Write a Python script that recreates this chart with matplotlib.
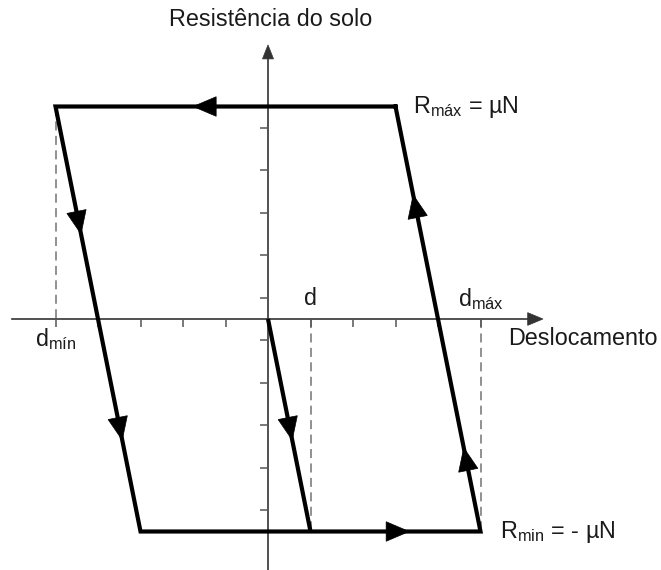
import numpy as np
import matplotlib.pyplot as plt
from matplotlib.patches import Polygon

plt.rcParams['font.family'] = ['Liberation Sans', 'DejaVu Sans']
plt.rcParams['mathtext.fontset'] = 'custom'
plt.rcParams['mathtext.rm'] = 'Liberation Sans'
plt.rcParams['mathtext.it'] = 'Liberation Sans'

# Hysteresis loop of soil resistance vs displacement (normalised units)
r_max = 5.0
r_min = -5.0
d_min = -5.0
d_max = 5.0
d_val = 1.0
loop_x = [3.0, -5.0, -3.0, 5.0, 3.0]
loop_y = [5.0, 5.0, -5.0, -5.0, 5.0]
inner_x = [0.0, 1.0]
inner_y = [0.0, -5.0]

# arrow heads: (start point, end point, fraction along the segment for the tip)
arrows = [
    ((3, 5), (-5, 5), 0.595),
    ((-5, 5), (-3, -5), 0.30),
    ((-5, 5), (-3, -5), 0.785),
    ((-3, -5), (5, -5), 0.79),
    ((5, -5), (3, 5), 0.197),
    ((5, -5), (3, 5), 0.792),
    ((0, 0), (1, -5), 0.57),
]

x_ticks = [-5, -4, -3, -2, -1, 1, 2, 3, 4, 5]
y_ticks = [-4.5, -3.5, -2.5, -1.5, -0.5, 0.5, 1.5, 2.5, 3.5, 4.5]

fig = plt.figure(figsize=(6.61, 5.70), dpi=100)
ax = fig.add_axes([0, 0, 1, 1])
ax.set_xlim(-6.306, 9.247)
ax.set_ylim(-5.906, 7.506)
ax.set_aspect('equal')
ax.axis('off')

axis_col = '#333333'
tick_len = 0.19


def head(tip, direction, length, width, color):
    d = np.asarray(direction, float)
    d /= np.hypot(*d)
    n = np.array([-d[1], d[0]])
    tip = np.asarray(tip, float)
    base = tip - d * length
    pts = [tip, base + n * width / 2, base - n * width / 2]
    ax.add_patch(Polygon(pts, closed=True, fc=color, ec=color, lw=0.5, zorder=5))


# axes with arrow tips
ax.plot([-6.02, 6.2], [0, 0], color=axis_col, lw=1.2, zorder=2)
head((6.47, 0), (1, 0), 0.36, 0.30, axis_col)
ax.plot([0, 0], [-5.9, 6.2], color=axis_col, lw=1.2, zorder=2)
head((0, 6.45), (0, 1), 0.33, 0.26, axis_col)

# ticks
ax.vlines(x_ticks, -tick_len, 0, color='#555555', lw=1.1, zorder=2)
ax.hlines(y_ticks, -tick_len, 0, color='#555555', lw=1.1, zorder=2)

# dashed guides
ax.plot([d_min, d_min], [r_max, 0], color='#888888', lw=1.3, ls=(0, (5, 3)), zorder=1)
ax.plot([d_max, d_max], [0, r_min], color='#888888', lw=1.3, ls=(0, (5, 3)), zorder=1)
ax.plot([d_val, d_val], [0, r_min], color='#888888', lw=1.3, ls=(0, (5, 3)), zorder=1)

# loop
ax.plot(loop_x, loop_y, color='black', lw=3.0, solid_joinstyle='miter', zorder=3)
ax.plot(inner_x, inner_y, color='black', lw=3.0, solid_capstyle='butt', zorder=3)

for p0, p1, f in arrows:
    p0 = np.array(p0, float)
    p1 = np.array(p1, float)
    tip = p0 + f * (p1 - p0)
    head(tip, p1 - p0, 0.54, 0.46, 'black')

txt = '#1a1a1a'
fs = 16.8
ax.text(0.07, 7.04, 'Resistência do solo', ha='center', va='center', fontsize=fs, color=txt)
ax.text(5.65, -0.45, 'Deslocamento', ha='left', va='center', fontsize=fs, color=txt)
ax.text(d_val, 0.33, 'd', ha='center', va='baseline', fontsize=fs, color=txt)
ax.text(d_max, 0.3, r'd$_{\mathrm{máx}}$', ha='center', va='baseline', fontsize=fs, color=txt)
ax.text(d_min, -0.64, r'd$_{\mathrm{mín}}$', ha='center', va='baseline', fontsize=fs, color=txt)
ax.text(3.41, 4.84, r'R$_{\mathrm{máx}}$ = µN', ha='left', va='baseline', fontsize=fs, color=txt)
ax.text(5.46, -5.15, r'R$_{\mathrm{min}}$ = - µN', ha='left', va='baseline', fontsize=fs, color=txt)

fig.savefig('out.png', dpi=100, facecolor='white')
